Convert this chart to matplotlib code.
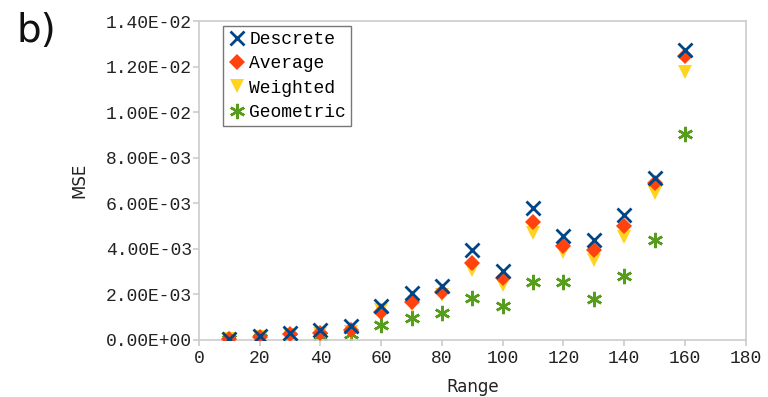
import matplotlib
matplotlib.use("Agg")
import matplotlib.pyplot as plt

# data
ranges = [10, 20, 30, 40, 50, 60, 70, 80, 90, 100, 110, 120, 130, 140, 150, 160]
descrete = [0.00003, 0.00018, 0.00032, 0.00041, 0.00061, 0.00149, 0.00207, 0.00237,
            0.00393, 0.00304, 0.00577, 0.00455, 0.00437, 0.00550, 0.00712, 0.01272]
average = [0.00002, 0.00014, 0.00026, 0.00032, 0.00044, 0.00121, 0.00168, 0.00212,
           0.00338, 0.00272, 0.00517, 0.00414, 0.00393, 0.00499, 0.00687, 0.01247]
weighted = [0.00002, 0.00011, 0.00020, 0.00025, 0.00036, 0.00130, 0.00153, 0.00197,
            0.00308, 0.00242, 0.00467, 0.00384, 0.00349, 0.00452, 0.00646, 0.01177]
geometric = [0.00002, 0.00008, 0.00012, 0.00015, 0.00026, 0.00066, 0.00098, 0.00120,
             0.00184, 0.00150, 0.00254, 0.00252, 0.00179, 0.00282, 0.00437, 0.00906]

mono = "Liberation Mono"
grey = "#cccccc"

fig = plt.figure(figsize=(7.68, 3.97), dpi=100)
ax = fig.add_axes([0.259, 0.144, 0.712, 0.803])

ax.plot(ranges, descrete, linestyle="none", marker="x", ms=10, mew=2,
        color="#004586", label="Descrete", zorder=5)
ax.plot(ranges, average, linestyle="none", marker="D", ms=8, mew=0,
        color="#ff420e", label="Average", zorder=4)
ax.plot(ranges, weighted, linestyle="none", marker="v", ms=10, mew=0,
        color="#ffd320", label="Weighted", zorder=3)
ax.plot(ranges, geometric, linestyle="none", marker=(6, 2, 0), ms=11, mew=1.8,
        color="#579d1c", label="Geometric", zorder=2)

ax.set_xlim(0, 180)
ax.set_ylim(0, 0.014)
ax.set_xticks(range(0, 181, 20))
yticks = [i * 0.002 for i in range(8)]
ax.set_yticks(yticks)
ax.set_yticklabels([f"{v:.2E}" for v in yticks])

for s in ax.spines.values():
    s.set_color(grey)
    s.set_linewidth(1.2)
ax.tick_params(colors=grey, labelcolor="#222222", length=4, width=1.2)
ax.tick_params(axis="y", pad=1)
ax.tick_params(axis="x", pad=3)
for lbl in ax.get_xticklabels() + ax.get_yticklabels():
    lbl.set_fontfamily(mono)
    lbl.set_fontsize(13)

ax.set_xlabel("Range", fontsize=12, color="#222222", labelpad=8)
ax.set_ylabel("MSE", fontsize=12, color="#222222", labelpad=13)

leg = ax.legend(loc="upper left", bbox_to_anchor=(0.044, 0.985),
                prop={"family": mono, "size": 13}, frameon=True, fancybox=False,
                borderpad=0.3, handletextpad=0.15, handlelength=1.0,
                labelspacing=0.4, borderaxespad=0)
leg.get_frame().set_edgecolor("#555555")
leg.get_frame().set_linewidth(1.0)

fig.text(0.022, 0.895, "b)", fontsize=28, color="#111111")

fig.savefig("out.png", dpi=100)
